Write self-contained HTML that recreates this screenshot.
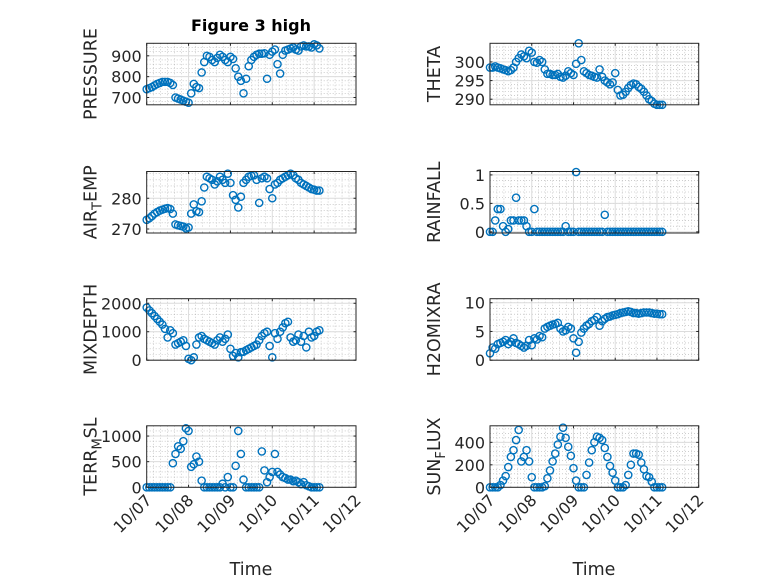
<!DOCTYPE html>
<html><head><meta charset="utf-8"><style>
body{margin:0;background:#fff}
svg{display:block;font-family:"DejaVu Sans","Liberation Sans",sans-serif}
</style></head><body>
<svg id="fig" width="778" height="583" viewBox="0 0 778 583" xmlns="http://www.w3.org/2000/svg">
<rect width="778" height="583" fill="#fff"/>
<text x="251" y="31" text-anchor="middle" font-size="16" font-weight="bold" fill="#000">Figure 3 high</text>
<text x="251" y="575" text-anchor="middle" font-size="17.5" fill="#262626">Time</text>
<text x="594" y="575" text-anchor="middle" font-size="17.5" fill="#262626">Time</text>
</svg>
<script>
const dayTicks = ["10/07","10/08","10/09","10/10","10/11","10/12"];
const pressure = [740,745,750,758,765,770,775,775,775,770,760,700,695,690,685,680,675,720,765,750,745,820,870,900,895,880,870,890,905,895,880,870,895,885,840,800,780,720,790,850,880,895,905,910,910,912,790,905,920,930,860,815,905,925,930,935,940,930,925,945,950,945,945,940,955,950,935];
const theta = [298.5,298.5,298.8,298.5,298.3,298,297.8,297.5,297.8,298.5,300,301,302,301.5,301,303,302.5,300,299.8,300.5,300,298,296.8,296.8,296.5,296.5,296.8,296,295.8,296.3,297.5,297,296.5,299.5,305,300.5,297.5,297,296.5,296.3,296,295.8,298,296,295,294.5,294,294.5,297,292.5,291,291.2,292,293,293.8,294.2,294,293.3,292.8,292,291,290,289.5,288.8,288.5,288.5,288.5];
const airTemp = [273,273.5,274.2,275,275.5,276,276.3,276.6,276.8,276.5,275,271.5,271.2,271,270.8,270.2,270.5,275,278,275.8,275.5,279,283.5,287,286.5,286,284.5,285.5,287,286,285,288,285,281,279.5,277,280.5,285,286,287,287.3,287.5,286,278.5,286.5,287,286.5,283,280,284.5,285,286,286.5,287,287.5,288,287.5,286.5,286,285,284.5,284,283.5,283,282.8,282.5,282.5];
const rainfall = [0,0,0.2,0.4,0.4,0.1,0,0.05,0.2,0.2,0.6,0.2,0.2,0.2,0.1,0,0,0.4,0,0,0,0,0,0,0,0,0,0,0,0.1,0,0,0,1.05,0,0,0,0,0,0,0,0,0,0,0.3,0,0,0,0,0,0,0,0,0,0,0,0,0,0,0,0,0,0,0,0,0,0];
const mixDepth = [1850,1750,1650,1550,1450,1350,1250,1100,800,1050,950,550,600,650,700,500,50,0,100,550,800,850,750,700,650,600,550,700,800,650,750,900,400,150,250,100,280,300,350,400,450,500,550,700,850,950,1000,500,100,950,750,1000,1150,1300,1350,800,650,700,900,650,850,450,1000,800,850,1000,1050];
const h2oMix = [1.2,2.2,2,2.8,3,3.2,3.5,2.8,3.2,3.8,3,2.8,2.5,2.2,2.5,3.5,2.6,3.8,3.6,4.2,4,5.5,5.8,6,6.2,6.3,6.5,5.5,5,5.2,5.8,5.5,3.8,1.3,3.2,4.8,5.5,6,6.3,6.8,7,7.5,6,6.8,7.2,7.5,7.6,7.8,7.9,8,8.2,8.3,8.4,8.5,8.4,8.2,8.2,8.1,8.2,8.3,8.3,8.3,8.2,8.1,8.1,8,8];
const terrMsl = [0,0,0,0,0,0,0,0,0,0,470,650,800,750,900,1150,1100,400,450,600,500,130,0,0,0,0,0,0,0,70,0,200,0,0,420,1100,650,150,0,0,0,0,0,0,700,330,100,200,300,650,300,250,200,180,150,150,120,130,100,60,100,40,20,0,0,0,0];
const sunFlux = [0,0,0,0,20,60,100,180,270,330,420,510,230,270,330,230,90,0,0,0,0,10,80,150,230,300,380,450,530,440,360,280,170,60,0,0,0,110,220,330,400,450,440,420,350,270,190,130,60,0,0,0,20,110,200,300,300,290,220,160,100,90,50,0,0,0,0];
const stepDays = 1/16;

const NS="http://www.w3.org/2000/svg";
const svg=document.getElementById('fig');
function mk(tag,attrs,parent){const e=document.createElementNS(NS,tag);for(const k in attrs)e.setAttribute(k,attrs[k]);(parent||svg).appendChild(e);return e;}

const cols=[{x0:146.7,x1:356},{x0:490,x1:698.7}];
const rows=[{y0:43.3,y1:104.8},{y0:171.5,y1:233},{y0:298.7,y1:360.2},{y0:425.8,y1:487.3}];
const panels=[
 {name:'pressure',data:pressure,col:0,row:0,ymin:665,ymax:960,ticks:[700,800,900],label:['PRESSURE']},
 {name:'theta',data:theta,col:1,row:0,ymin:288.5,ymax:305,ticks:[290,295,300],label:['THETA']},
 {name:'air-temp',data:airTemp,col:0,row:1,ymin:268.7,ymax:288.7,ticks:[270,280],label:['AIR','T','EMP']},
 {name:'rainfall',data:rainfall,col:1,row:1,ymin:-0.02,ymax:1.06,ticks:[0,0.5,1],label:['RAINFALL']},
 {name:'mixdepth',data:mixDepth,col:0,row:2,ymin:0,ymax:2160,ticks:[0,1000,2000],label:['MIXDEPTH']},
 {name:'h2o-mix',data:h2oMix,col:1,row:2,ymin:0,ymax:10.7,ticks:[0,5,10],label:['H2OMIXRA']},
 {name:'terr-msl',data:terrMsl,col:0,row:3,ymin:0,ymax:1200,ticks:[0,500,1000],label:['TERR','M','SL']},
 {name:'sun-flux',data:sunFlux,col:1,row:3,ymin:0,ymax:547,ticks:[0,200,400],label:['SUN','F','LUX']}
];

panels.forEach(p=>{
 const c=cols[p.col],r=rows[p.row];
 const xs=d=>c.x0+(c.x1-c.x0)*d/5;
 const ys=v=>r.y1-(r.y1-r.y0)*(v-p.ymin)/(p.ymax-p.ymin);
 const g=mk('g',{});
 
 
 for(let i=1;i<30;i++){ if(i%6===0)continue; const x=xs(i/6);
  mk('line',{x1:x,x2:x,y1:r.y0,y2:r.y1,stroke:'#b0b0b0','stroke-width':0.6,'stroke-dasharray':'1 2'},g);}
 const step=p.ticks[1]-p.ticks[0], minor=step/5;
 for(let v=Math.ceil(p.ymin/minor)*minor; v<=p.ymax; v+=minor){
  const y=ys(v); if(y<r.y0+0.5||y>r.y1-0.5)continue;
  mk('line',{x1:c.x0,x2:c.x1,y1:y,y2:y,stroke:'#b0b0b0','stroke-width':0.6,'stroke-dasharray':'1 2'},g);}
 for(let i=1;i<5;i++){const x=xs(i);mk('line',{x1:x,x2:x,y1:r.y0,y2:r.y1,stroke:'#dcdcdc','stroke-width':1},g);}
 p.ticks.forEach(v=>{const y=ys(v);mk('line',{x1:c.x0,x2:c.x1,y1:y,y2:y,stroke:'#dcdcdc','stroke-width':1},g);});
 for(let i=0;i<=5;i++){const x=xs(i);
  mk('line',{x1:x,x2:x,y1:r.y1,y2:r.y1-2.5,stroke:'#262626','stroke-width':1},g);
  mk('line',{x1:x,x2:x,y1:r.y0,y2:r.y0+2.5,stroke:'#262626','stroke-width':1},g);}
 p.ticks.forEach(v=>{const y=ys(v);
  mk('line',{x1:c.x0,x2:c.x0+2.5,y1:y,y2:y,stroke:'#262626','stroke-width':1},g);
  mk('line',{x1:c.x1,x2:c.x1-2.5,y1:y,y2:y,stroke:'#262626','stroke-width':1},g);
  const t=mk('text',{x:c.x0-5,y:y+6,'text-anchor':'end','font-size':16,fill:'#262626'},g);
  t.textContent=String(v);
  
  
 });
 p.data.forEach((v,i)=>{
  const m=mk('circle',{cx:xs(i*stepDays),cy:ys(v),r:3.6,fill:'none',stroke:'#0072BD','stroke-width':1.4},g);
  
  
 });
 mk('rect',{x:c.x0,y:r.y0,width:c.x1-c.x0,height:r.y1-r.y0,fill:'none',stroke:'#262626','stroke-width':1},g);
 const lx=c.x0-(p.col===0?50:50), ly=(r.y0+r.y1)/2;
 const t=mk('text',{x:0,y:0,'text-anchor':'middle','font-size':17.5,fill:'#262626',transform:`translate(${lx},${ly}) rotate(-90)`},g);
 
 
 if(p.label.length===1){t.textContent=p.label[0];}
 else{
  const a=mk('tspan',{},t);a.textContent=p.label[0];
  const b=mk('tspan',{dy:5,'font-size':13},t);b.textContent=p.label[1];
  const d=mk('tspan',{dy:-5},t);d.textContent=p.label[2];
 }
 if(p.row===3){
  dayTicks.forEach((lab,i)=>{const x=xs(i);
   const tt=mk('text',{x:0,y:0,'text-anchor':'end','font-size':16,fill:'#262626',transform:`translate(${x+6},${r.y1+14}) rotate(-45)`},g);
   tt.textContent=lab;
   
   
  });
 }
});
</script>
</body></html>
